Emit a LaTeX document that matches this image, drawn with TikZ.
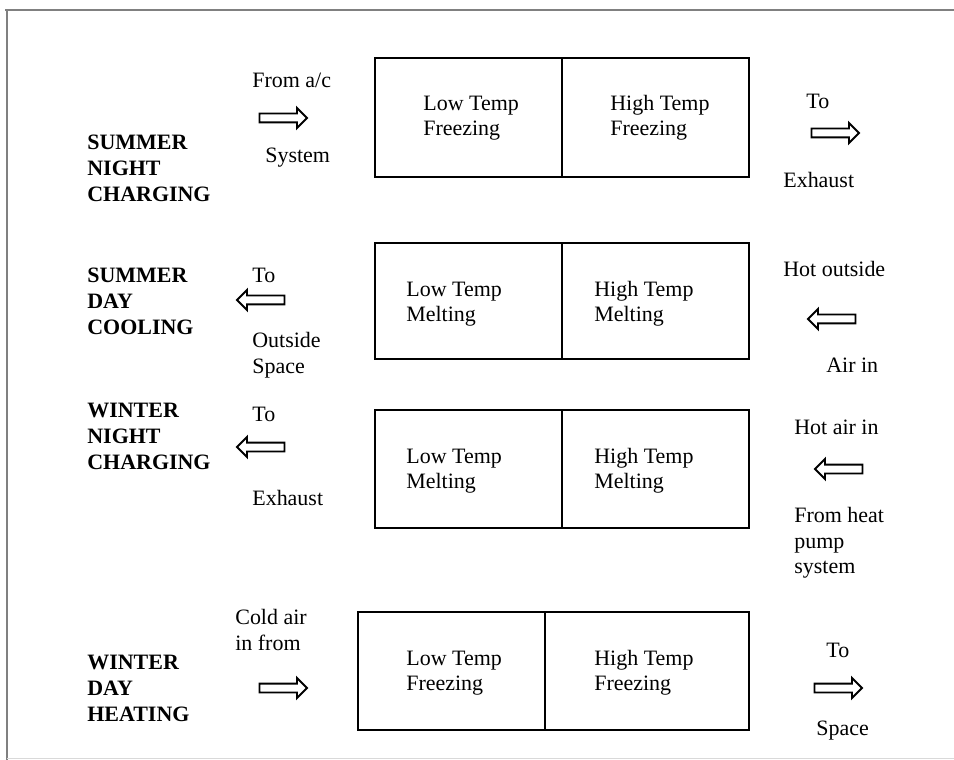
\documentclass[tikz,border=0pt]{standalone}
\usepackage{fontspec}
\setmainfont{Liberation Serif}
\usetikzlibrary{shapes.arrows}

\tikzset{
	txt/.style = {anchor=west, inner sep=0pt, align=left, font=\fontsize{12.5}{14.5}\selectfont},
	mode/.style = {txt, font=\fontsize{12.5}{14.8}\selectfont\bfseries},
	fatright/.style = {single arrow, draw, line width=1.1pt, minimum height=0.95cm,
		inner sep=0pt, inner ysep=0.07cm, single arrow head extend=0.11cm, single arrow head indent=0pt},
	fatleft/.style = {fatright, shape border rotate=180}
}

\begin{document}
\begin{tikzpicture}[x=0.02cm, y=-0.02cm]
		\useasboundingbox (0,0) rectangle (954,760);
		% frame
		\draw[gray, line width=1.6pt] (5,10) -- (954,10);
		\draw[gray, line width=1.6pt] (7,10) -- (7,760);
		\draw[gray!30, line width=0.5pt] (7,758) -- (954,758);
		% storage tanks
		\draw[line width=1.1pt] (375,58) rectangle (749,177);
		\draw[line width=1.1pt] (562,58) -- (562,177);
		\draw[line width=1.1pt] (375,243) rectangle (749,359);
		\draw[line width=1.1pt] (562,243) -- (562,359);
		\draw[line width=1.1pt] (375,410) rectangle (749,528);
		\draw[line width=1.1pt] (562,410) -- (562,528);
		\draw[line width=1.1pt] (358,612) rectangle (749,730);
		\draw[line width=1.1pt] (545,612) -- (545,730);
		% summer night charging
		\node[mode] (snc) at (87,168) {SUMMER\\NIGHT\\CHARGING};
		\node[txt] (sncLow) at (423,118) {Low Temp\\Freezing};
		\node[txt] (sncHigh) at (610,118) {High Temp\\Freezing};
		\node[txt] (sncFrom) at (252,80) {From a/c};
		\node[fatright] (sncIn) at (281,118) {};
		\node[txt] (sncSys) at (265,158) {System};
		\node[txt] (sncTo) at (806,101) {To};
		\node[fatright] (sncOut) at (833,133) {};
		\node[txt] (sncExh) at (783,180) {Exhaust};
		% summer day cooling
		\node[mode] (sdc) at (87,301) {SUMMER\\DAY\\COOLING};
		\node[txt] (sdcLow) at (406,304) {Low Temp\\Melting};
		\node[txt] (sdcHigh) at (594,304) {High Temp\\Melting};
		\node[txt] (sdcTo) at (252,275) {To};
		\node[fatleft] (sdcOut) at (263,300) {};
		\node[txt] (sdcSpace) at (252,355) {Outside\\Space};
		\node[txt] (sdcHot) at (783,269) {Hot outside};
		\node[fatleft] (sdcIn) at (834,319) {};
		\node[txt] (sdcAir) at (826,365) {Air in};
		% winter night charging
		\node[mode] (wnc) at (87,436) {WINTER\\NIGHT\\CHARGING};
		\node[txt] (wncLow) at (406,471) {Low Temp\\Melting};
		\node[txt] (wncHigh) at (594,471) {High Temp\\Melting};
		\node[txt] (wncTo) at (252,414) {To};
		\node[fatleft] (wncOut) at (263,447) {};
		\node[txt] (wncExh) at (252,498) {Exhaust};
		\node[txt] (wncHot) at (794,427) {Hot air in};
		\node[fatleft] (wncIn) at (841,469) {};
		\node[txt] (wncFrom) at (794,543) {From heat\\pump\\system};
		% winter day heating
		\node[mode] (wdh) at (87,688) {WINTER\\DAY\\HEATING};
		\node[txt] (wdhLow) at (406,673) {Low Temp\\Freezing};
		\node[txt] (wdhHigh) at (594,673) {High Temp\\Freezing};
		\node[txt] (wdhCold) at (235,630) {Cold air\\in from};
		\node[fatright] (wdhIn) at (281,688) {};
		\node[txt] (wdhTo) at (826,650) {To};
		\node[fatright] (wdhOut) at (836,688) {};
		\node[txt] (wdhSpace) at (816,731) {Space};
	\end{tikzpicture}
\end{document}
